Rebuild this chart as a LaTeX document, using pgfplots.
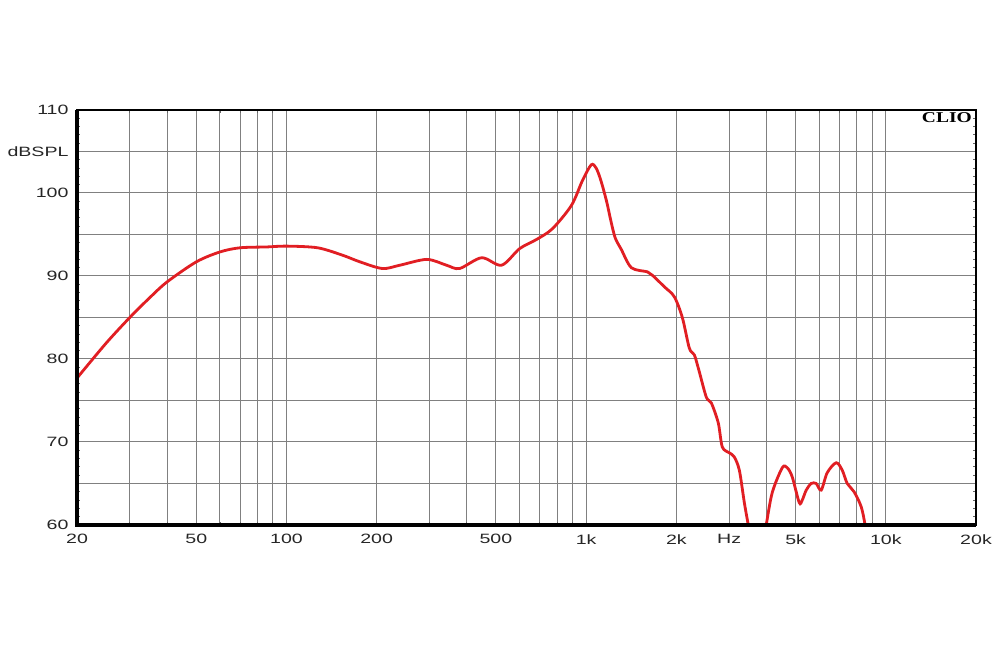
\documentclass[border=0pt]{standalone}
\usepackage{fontspec}
\setmainfont{Liberation Sans}[FakeStretch=1.45]
\newfontfamily\cliofont{Liberation Serif}[FakeStretch=1.3]
\usepackage{pgfplots}
\pgfplotsset{compat=1.18}
\definecolor{curvered}{RGB}{225,30,35}
\begin{document}
\begin{tikzpicture}[x=1pt,y=1pt]
\path[use as bounding box, fill=white] (0,0) rectangle (1000,650);
\begin{axis}[name=ax, at={(77pt,125pt)}, anchor=south west, scale only axis,
  width=899pt, height=415pt,
  xmode=log, xmin=20, xmax=20000, ymin=60, ymax=110,
  xtick={20,50,100,200,500,1000,2000,3000,5000,10000,20000},
  xticklabels={20,50,100,200,500,1k,2k,Hz,5k,10k,20k},
  minor xtick={30,40,60,70,80,90,300,400,600,700,800,900,4000,6000,7000,8000,9000},
  ytick={60,65,...,110},
  yticklabels={60,,70,,80,,90,,100,dBSPL,110},
  minor ytick={61,62,63,64,66,67,68,69,71,72,73,74,76,77,78,79,81,82,83,84,86,87,88,89,91,92,93,94,96,97,98,99,101,102,103,104,106,107,108,109},
  xmajorgrids=true, xminorgrids=true, ymajorgrids=true, yminorgrids=false,
  major grid style={draw=black!50, line width=1pt},
  minor grid style={draw=black!50, line width=1pt},
  axis line style={black, line width=1.3pt},
  major tick length=0pt, minor tick length=3pt, tick align=inside,
  minor tick style={black!60, line width=0.8pt},
  tick label style={font=\fontsize{13.5}{13.5}\selectfont, color=black!85},
  xticklabel style={yshift=-6pt},
  yticklabel style={xshift=-5pt},
  log basis x=10,
]
\addplot[curvered, line width=2.8pt, smooth, tension=0.5] coordinates {
(20,77.7)
(25,81.9)
(30,85.0)
(35,87.4)
(40,89.3)
(50,91.7)
(60,92.9)
(70,93.4)
(86,93.5)
(100,93.6)
(127,93.4)
(154,92.5)
(176,91.7)
(209,90.9)
(239,91.3)
(294,92.0)
(342,91.3)
(378,90.9)
(448,92.2)
(522,91.3)
(600,93.3)
(683,94.4)
(772,95.7)
(893,98.5)
(972,101.5)
(1040,103.4)
(1080,103.0)
(1120,101.5)
(1170,99.0)
(1210,96.6)
(1250,94.6)
(1310,93.2)
(1416,91.0)
(1601,90.5)
(1663,90.1)
(1824,88.7)
(1969,87.5)
(2094,85.0)
(2210,81.3)
(2296,80.5)
(2376,78.7)
(2518,75.4)
(2617,74.7)
(2760,72.3)
(2847,69.4)
(3004,68.7)
(3121,68.2)
(3245,66.6)
(3372,62.7)
(3476,60)
(3600,57)
(3850,57)
(3990,60)
(4178,63.9)
(4513,66.9)
(4688,66.9)
(4872,65.8)
(5141,62.7)
(5262,63.0)
(5425,64.2)
(5637,65.0)
(5857,65.0)
(6087,64.2)
(6376,66.3)
(6832,67.5)
(7155,66.6)
(7437,65.0)
(7838,64.0)
(8276,62.2)
(8530,60)
(8800,57)
};
\end{axis}
\draw[black, line width=3.2pt] (ax.north west) -- (ax.south west) -- (ax.south east);
\node[anchor=north east, inner sep=0pt] at ([xshift=-4pt,yshift=-2.5pt]ax.north east)
  {\cliofont\bfseries\fontsize{15}{15}\selectfont CLIO};
\end{tikzpicture}
\end{document}
